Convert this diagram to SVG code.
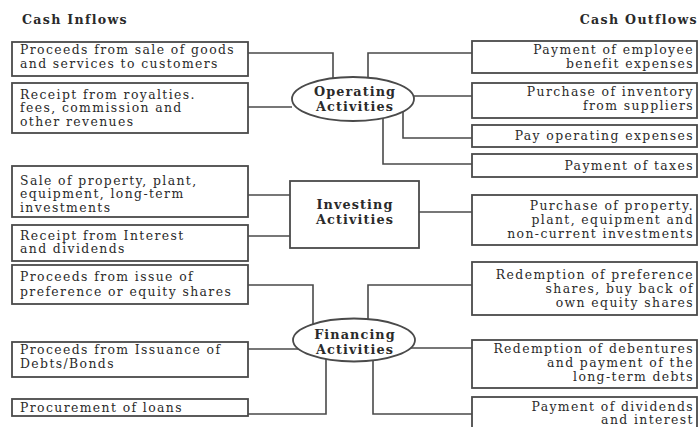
<svg xmlns="http://www.w3.org/2000/svg" width="699" height="427" viewBox="0 0 699 427">
<style>
text{font-family:"DejaVu Serif","Liberation Serif",serif;font-size:12.4px;letter-spacing:1.4px;fill:#2a2a2a}
.t{font-weight:bold;font-size:12.6px;letter-spacing:1.3px}
.h{font-weight:bold;font-size:12.8px;letter-spacing:1.1px;text-anchor:middle}
.r{text-anchor:end}
.box{fill:#fff;stroke:#4a4a4a;stroke-width:1.8}
.c{fill:none;stroke:#4a4a4a;stroke-width:1.6}
</style>
<rect width="699" height="427" fill="#fff"/>
<text class="t" x="22" y="24">Cash Inflows</text>
<text class="t r" x="698" y="24">Cash Outflows</text>
<g id="connectors">
<path class="c" d="M248 53H333V78"/>
<path class="c" d="M248 107H292"/>
<path class="c" d="M368 78V53H472"/>
<path class="c" d="M414 96H472"/>
<path class="c" d="M403 112V138H472"/>
<path class="c" d="M383 118V164H472"/>
<path class="c" d="M248 195H290"/>
<path class="c" d="M248 236H290"/>
<path class="c" d="M419 212H472"/>
<path class="c" d="M248 285H313V324"/>
<path class="c" d="M248 349H299"/>
<path class="c" d="M248 414H326V359"/>
<path class="c" d="M368 319V285H472"/>
<path class="c" d="M410 348H472"/>
<path class="c" d="M373 360V414H472"/>
</g>
<g id="operating">
<ellipse class="box" cx="353" cy="99" rx="61" ry="22"/>
<text class="h" x="355" y="96">Operating</text>
<text class="h" x="355" y="111">Activities</text>
</g>
<g id="investing">
<rect class="box" x="290" y="181" width="129" height="67"/>
<text class="h" x="355" y="209">Investing</text>
<text class="h" x="355" y="224">Activities</text>
</g>
<g id="financing">
<ellipse class="box" cx="354" cy="340" rx="61" ry="21.5"/>
<text class="h" x="355" y="339">Financing</text>
<text class="h" x="355" y="354">Activities</text>
</g>
<g id="in1"><rect class="box" x="12" y="42" width="236" height="34"/>
<text x="20" y="53.5">Proceeds from sale of goods</text><text x="20" y="67.5">and services to customers</text></g>
<g id="in2"><rect class="box" x="12" y="83" width="236" height="50"/>
<text x="20" y="98.5">Receipt from royalties.</text><text x="20" y="112">fees, commission and</text><text x="20" y="125.5">other revenues</text></g>
<g id="in3"><rect class="box" x="12" y="166" width="236" height="51"/>
<text x="20" y="184.5">Sale of property, plant,</text><text x="20" y="198">equipment, long-term</text><text x="20" y="211.5">investments</text></g>
<g id="in4"><rect class="box" x="12" y="225" width="236" height="36"/>
<text x="20" y="239.5">Receipt from Interest</text><text x="20" y="253">and dividends</text></g>
<g id="in5"><rect class="box" x="12" y="265" width="236" height="39"/>
<text x="20" y="281">Proceeds from issue of</text><text x="20" y="295.5">preference or equity shares</text></g>
<g id="in6"><rect class="box" x="12" y="342" width="236" height="35"/>
<text x="20" y="353.5">Proceeds from Issuance of</text><text x="20" y="367.5">Debts/Bonds</text></g>
<g id="in7"><rect class="box" x="12" y="399" width="236" height="17"/>
<text x="20" y="412">Procurement of loans</text></g>
<g id="out1"><rect class="box" x="472" y="41" width="225" height="32"/>
<text class="r" x="694" y="53.5">Payment of employee</text><text class="r" x="694" y="67.5">benefit expenses</text></g>
<g id="out2"><rect class="box" x="472" y="83" width="225" height="35"/>
<text class="r" x="694" y="96">Purchase of inventory</text><text class="r" x="694" y="110">from suppliers</text></g>
<g id="out3"><rect class="box" x="472" y="125" width="225" height="22"/>
<text class="r" x="694" y="140">Pay operating expenses</text></g>
<g id="out4"><rect class="box" x="472" y="154" width="225" height="23"/>
<text class="r" x="694" y="169.5">Payment of taxes</text></g>
<g id="out5"><rect class="box" x="472" y="195" width="225" height="50"/>
<text class="r" x="694" y="209.5">Purchase of property.</text><text class="r" x="694" y="223.5">plant, equipment and</text><text class="r" x="694" y="237.5">non-current investments</text></g>
<g id="out6"><rect class="box" x="472" y="262" width="225" height="53"/>
<text class="r" x="694" y="279">Redemption of preference</text><text class="r" x="694" y="293">shares, buy back of</text><text class="r" x="694" y="307">own equity shares</text></g>
<g id="out7"><rect class="box" x="472" y="340" width="225" height="48"/>
<text class="r" x="694" y="352.5">Redemption of debentures</text><text class="r" x="694" y="366.5">and payment of the</text><text class="r" x="694" y="380.5">long-term debts</text></g>
<g id="out8"><rect class="box" x="472" y="397" width="225" height="40"/>
<text class="r" x="694" y="410.5">Payment of dividends</text><text class="r" x="694" y="424">and interest</text></g>
</svg>
